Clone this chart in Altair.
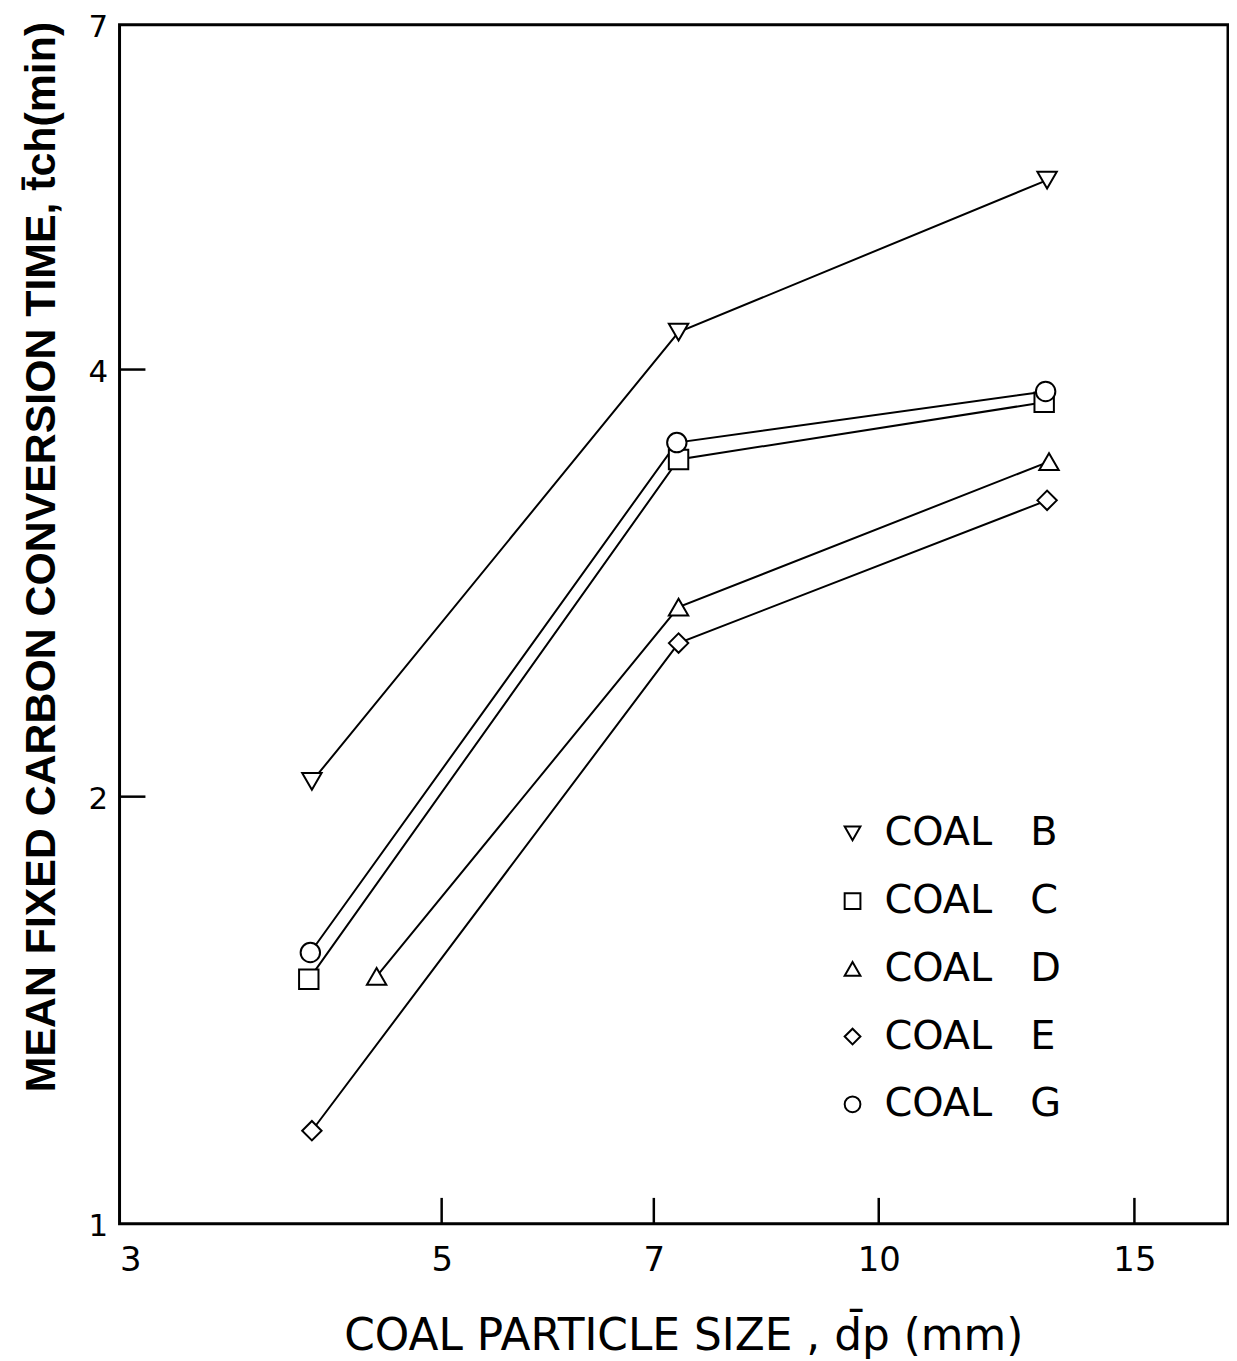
import altair as alt
import pandas as pd

coals = ["B", "C", "D", "E", "G"]
shapes = ["triangle-down", "square", "triangle-up", "diamond", "circle"]

size_B = [4.07, 7.28, 13.06]
time_B = [2.05, 4.25, 5.44]
size_C = [4.05, 7.28, 13.0]
time_C = [1.487, 3.457, 3.793]
size_D = [4.51, 7.28, 13.1]
time_D = [1.494, 2.72, 3.445]
size_E = [4.07, 7.28, 13.06]
time_E = [1.163, 2.566, 3.235]
size_G = [4.06, 7.26, 13.03]
time_G = [1.553, 3.553, 3.86]

x_labels = [3, 5, 7, 10, 15]
y_labels = [1, 2, 4, 7]
x_inner_ticks = [5, 7, 10, 15]
y_inner_ticks = [2, 4]

series = {
    "B": (size_B, time_B),
    "C": (size_C, time_C),
    "D": (size_D, time_D),
    "E": (size_E, time_E),
    "G": (size_G, time_G),
}
rows = []
for c in coals:
    xs, ys = series[c]
    for i, (xv, yv) in enumerate(zip(xs, ys)):
        rows.append({"coal": c, "size": xv, "time": yv, "order": i})
df = pd.DataFrame(rows)

W, H = 1113, 1204
FONT = "DejaVu Sans"
BOLD_FONT = "Liberation Sans"

x_scale = alt.Scale(type="log", domain=[3, 17.4], nice=False)
y_scale = alt.Scale(type="log", domain=[1, 7], nice=False)
shape_scale = alt.Scale(domain=coals, range=shapes)

x_axis = alt.Axis(
    values=x_labels, title="COAL PARTICLE SIZE , d\u0304p (mm)",
    labelFontSize=34, labelPadding=20, labelFont=FONT, labelColor="black",
    titleFontSize=44, titleFont=FONT, titleFontWeight="normal", titleColor="black",
    titleBaseline="alphabetic", titleY=126, titleX=566,
)
y_axis = alt.Axis(
    values=y_labels, title="MEAN FIXED CARBON CONVERSION TIME, t\u0304ch(min)",
    labelFontSize=31, labelPadding=12, labelFont=FONT, labelColor="black",
    labelOffset=3,
    titleFontSize=43, titleFont=BOLD_FONT, titleFontWeight="bold", titleColor="black",
    titleBaseline="middle", titleAlign="center", titleAngle=-90, titleX=-78, titleY=534,
)

lines = alt.Chart(df).mark_line(color="black", strokeWidth=2).encode(
    x=alt.X("size:Q", scale=x_scale, axis=x_axis),
    y=alt.Y("time:Q", scale=y_scale, axis=y_axis),
    detail="coal:N",
    order="order:Q",
)

points = alt.Chart(df).mark_point(
    filled=False, color="black", fill="white", fillOpacity=1,
    strokeWidth=2, size=380, opacity=1
).encode(
    x=alt.X("size:Q", scale=x_scale),
    y=alt.Y("time:Q", scale=y_scale),
    shape=alt.Shape(
        "coal:N",
        scale=shape_scale,
        legend=alt.Legend(
            title=None, orient="none", legendX=716, legendY=792,
            labelExpr="'COAL\u00a0\u00a0\u00a0' + datum.label",
            labelFontSize=40, labelFont=FONT, labelColor="black",
            symbolSize=250, symbolStrokeWidth=2,
            labelOffset=12, rowPadding=28, padding=0,
            labelLimit=400,
        ),
    ),
)

xt = alt.Chart(pd.DataFrame({"size": x_inner_ticks})).mark_rule(
    color="black", strokeWidth=2.5
).encode(
    x=alt.X("size:Q", scale=x_scale),
    y=alt.value(H), y2=alt.value(H - 26),
)
yt = alt.Chart(pd.DataFrame({"time": y_inner_ticks})).mark_rule(
    color="black", strokeWidth=2.5
).encode(
    y=alt.Y("time:Q", scale=y_scale),
    x=alt.value(0), x2=alt.value(26),
)

chart = alt.layer(lines, xt, yt, points).properties(
    width=W, height=H,
    autosize=alt.AutoSizeParams(type="none"),
    padding={"left": 112, "top": 14, "right": 1, "bottom": 134},
    background="white",
).configure_view(
    stroke="black", strokeWidth=3
).configure_axis(
    domain=False, ticks=False, grid=False
)

chart.save("out.html", embed_options={"renderer": "svg", "actions": False})
